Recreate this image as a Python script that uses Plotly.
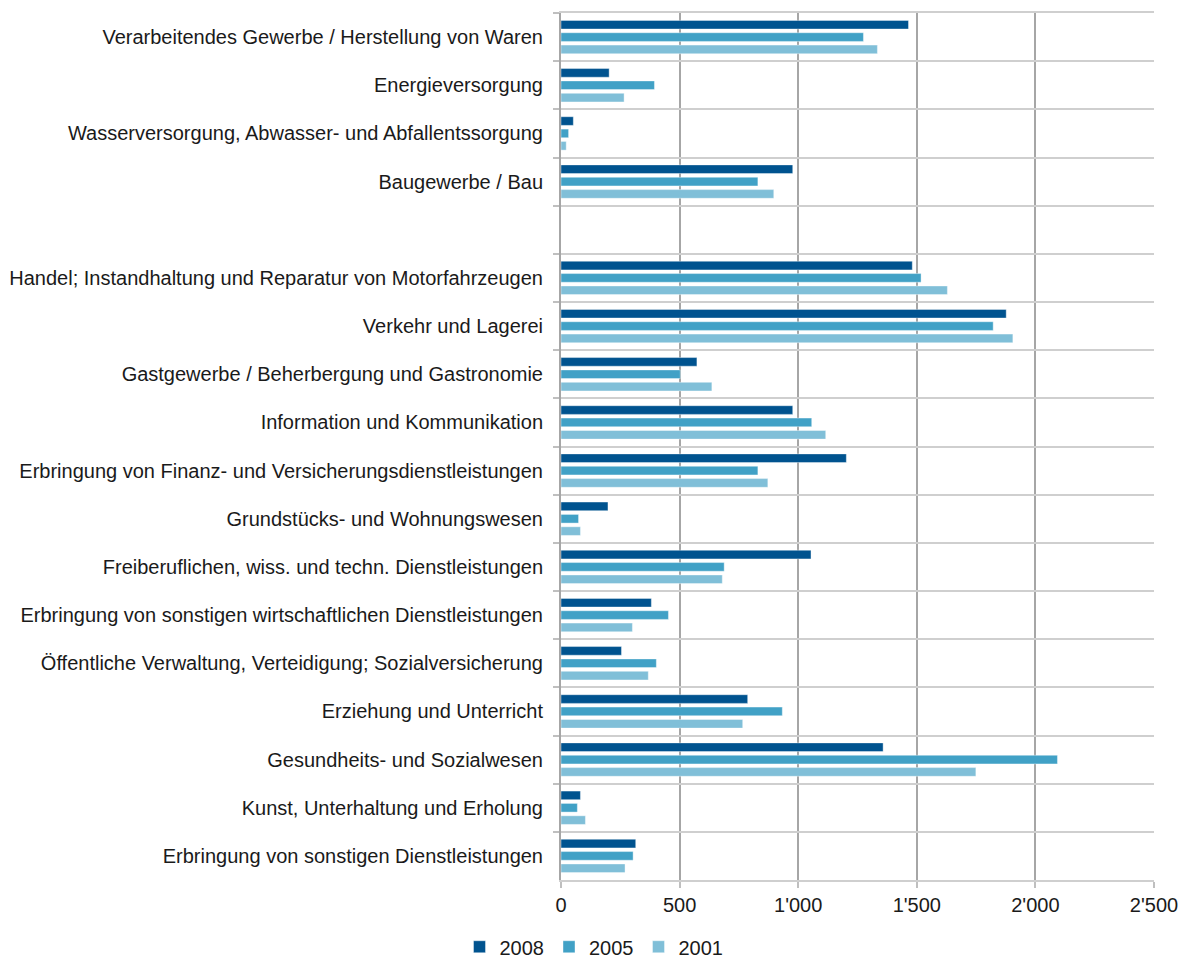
import plotly.graph_objects as go

# Branches, top to bottom (" " is the blank separator row)
categories = [
    "Verarbeitendes Gewerbe / Herstellung von Waren",
    "Energieversorgung",
    "Wasserversorgung, Abwasser- und Abfallentssorgung",
    "Baugewerbe / Bau",
    " ",
    "Handel; Instandhaltung und Reparatur von Motorfahrzeugen",
    "Verkehr und Lagerei",
    "Gastgewerbe / Beherbergung und Gastronomie",
    "Information und Kommunikation",
    "Erbringung von Finanz- und Versicherungsdienstleistungen",
    "Grundstücks- und Wohnungswesen",
    "Freiberuflichen, wiss. und techn. Dienstleistungen",
    "Erbringung von sonstigen wirtschaftlichen Dienstleistungen",
    "Öffentliche Verwaltung, Verteidigung; Sozialversicherung",
    "Erziehung und Unterricht",
    "Gesundheits- und Sozialwesen",
    "Kunst, Unterhaltung und Erholung",
    "Erbringung von sonstigen Dienstleistungen",
]

values_2008 = [1465, 203, 52, 977, None, 1481, 1877, 573, 977, 1203,
               198, 1054, 381, 255, 787, 1358, 82, 315]
values_2005 = [1275, 394, 32, 830, None, 1518, 1822, 503, 1057, 830,
               74, 688, 453, 402, 933, 2093, 69, 304]
values_2001 = [1334, 266, 22, 897, None, 1629, 1905, 636, 1116, 872,
               82, 680, 301, 368, 766, 1749, 103, 270]

x_ticks = [0, 500, 1000, 1500, 2000, 2500]
x_tick_labels = ["0", "500", "1'000", "1'500", "2'000", "2'500"]

series = [
    ("2008", values_2008, "#00538F"),
    ("2005", values_2005, "#41A1C6"),
    ("2001", values_2001, "#80BFD8"),
]

fig = go.Figure()
for name, vals, color in series:
    fig.add_trace(go.Bar(
        name=name,
        y=categories,
        x=vals,
        orientation="h",
        marker=dict(color=color, line=dict(color="rgba(255,255,255,0.8)", width=0.5)),
    ))

font_family = "Liberation Sans, Arial, sans-serif"

fig.update_layout(
    width=1188,
    height=960,
    margin=dict(l=561, r=34, t=13, b=80, autoexpand=False),
    paper_bgcolor="white",
    plot_bgcolor="white",
    barmode="group",
    bargap=0.23,
    bargroupgap=0.3,
    font=dict(family=font_family, size=20, color="#1a1a1a"),
    legend=dict(
        orientation="h",
        xref="container",
        yref="paper",
        x=0.5,
        xanchor="center",
        y=-0.077,
        yanchor="middle",
        font=dict(size=20),
        itemwidth=30,
        traceorder="normal",
    ),
    showlegend=True,
)

fig.update_xaxes(
    range=[0, 2500],
    tickvals=x_ticks,
    ticktext=x_tick_labels,
    automargin=False,
    showgrid=True,
    gridcolor="#A6A6A6",
    gridwidth=2,
    zeroline=False,
    showline=True,
    mirror=True,
    linecolor="#CFCFCF",
    linewidth=2,
    ticks="outside",
    ticklen=6,
    tickcolor="#BFBFBF",
    tickwidth=2,
    tickfont=dict(size=20),
)

fig.update_yaxes(
    type="category",
    categoryorder="array",
    categoryarray=categories,
    autorange="reversed",
    automargin=False,
    tickson="boundaries",
    showgrid=True,
    gridcolor="#CFCFCF",
    gridwidth=2,
    showline=True,
    linecolor="#A6A6A6",
    linewidth=2,
    ticks="outside",
    ticklen=6,
    tickcolor="#BFBFBF",
    tickwidth=2,
    ticklabelstandoff=12,
    tickfont=dict(size=20),
)

fig.write_html("out.html")
